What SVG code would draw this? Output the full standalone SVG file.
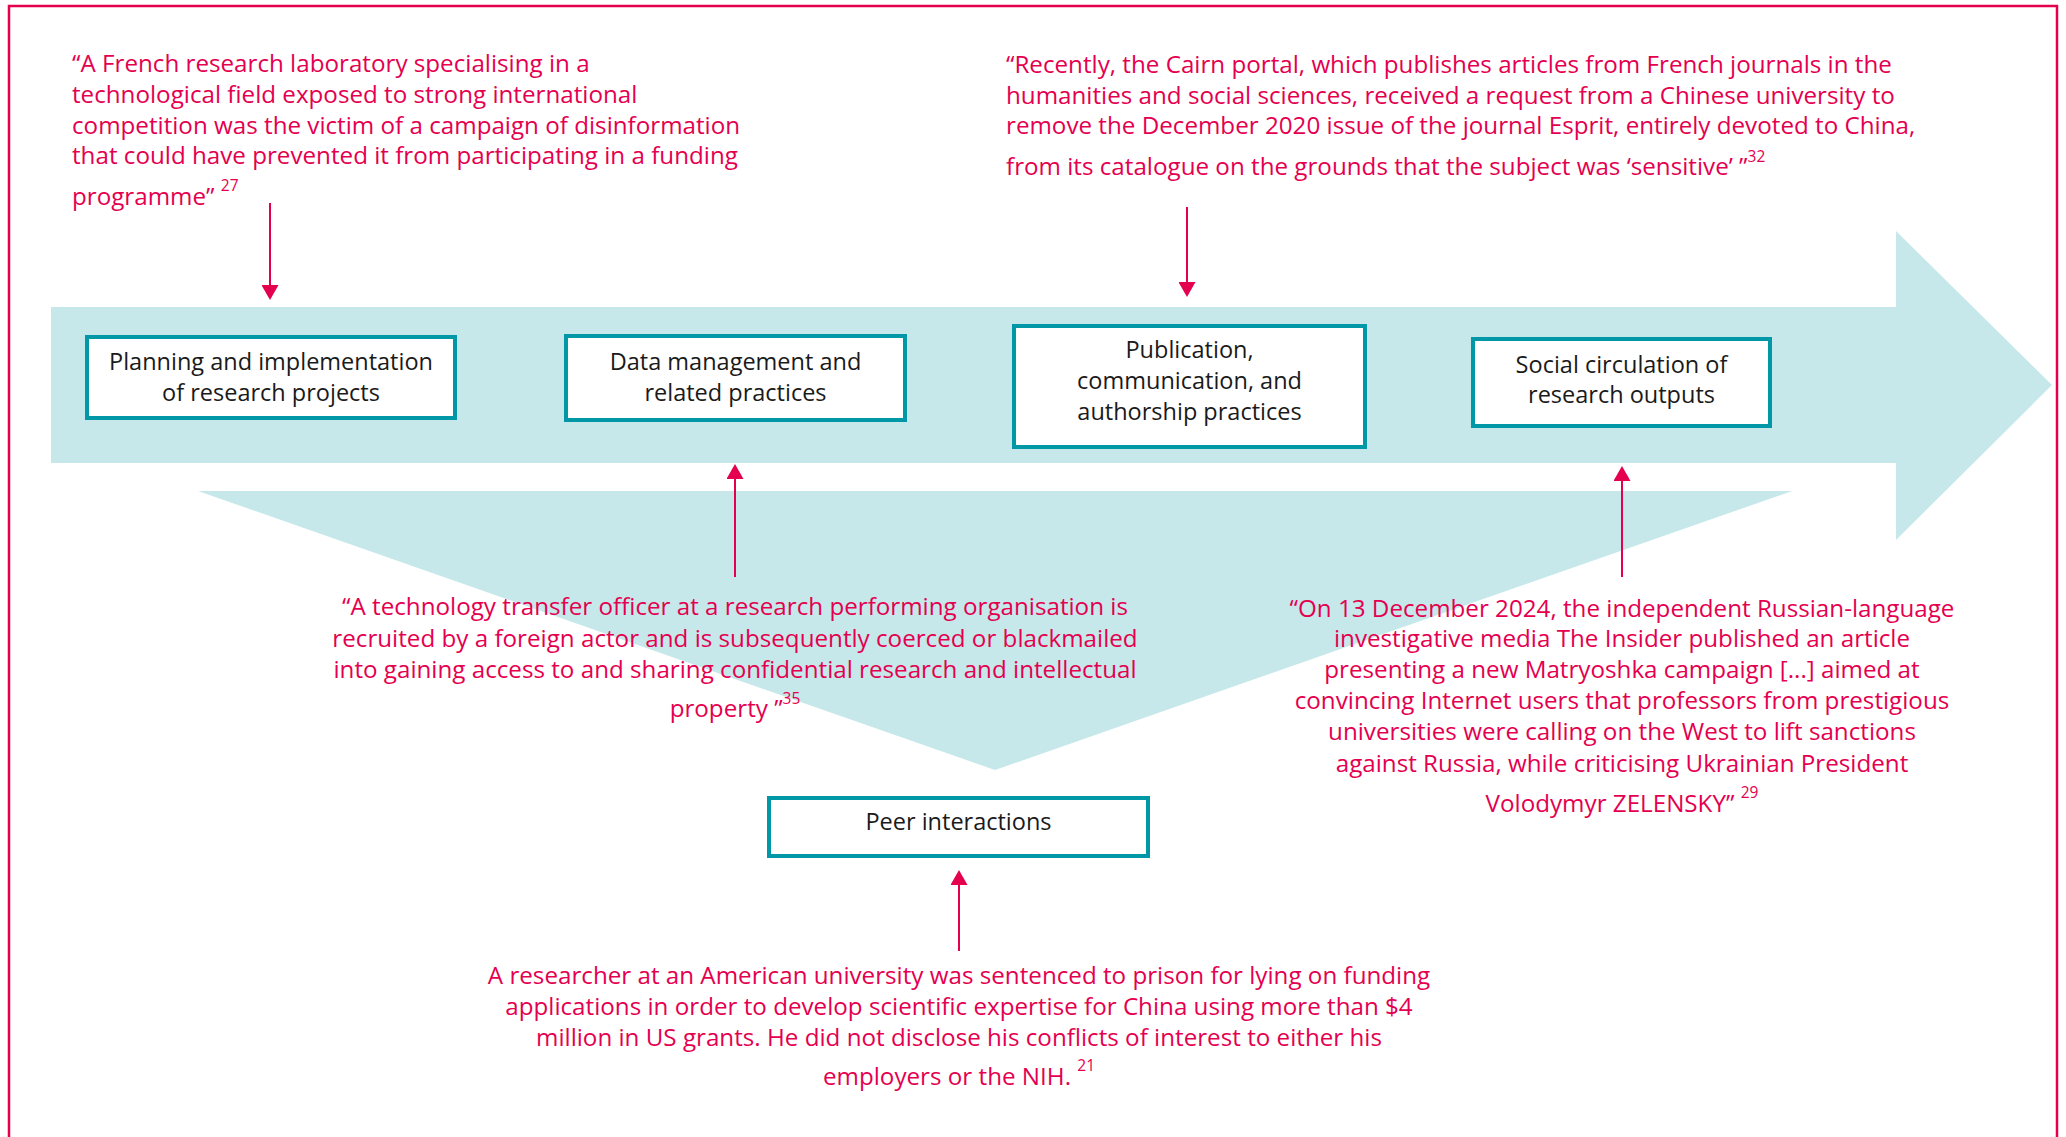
<svg xmlns="http://www.w3.org/2000/svg" width="2066" height="1137" viewBox="0 0 2066 1137">
  <style>
    .frame { fill: none; stroke: #E4004F; stroke-width: 2.5; }
    .band { fill: #C6E8EA; }
    .box { fill: #FFFFFF; stroke: #0098A6; stroke-width: 4; }
    .label { font-family: 'Open Sans', 'Liberation Sans', sans-serif; font-size: 23.5px; fill: #1A1A1A; text-anchor: middle; }
    .quote { font-family: 'Open Sans', 'Liberation Sans', sans-serif; font-size: 24.2px; fill: #E4004F; }
    .mid { text-anchor: middle; }
    .sup { font-size: 15.5px; }
    .conn { stroke: #E4004F; stroke-width: 2; fill: none; marker-end: url(#head); }
  </style>
  <defs>
    <marker id="head" markerUnits="userSpaceOnUse" markerWidth="15" markerHeight="17" viewBox="0 0 15 17" refX="0" refY="8.5" orient="auto">
      <path d="M0,0 L15,8.5 L0,17 Z" fill="#E4004F"/>
    </marker>
  </defs>

  <rect class="frame" x="9" y="6" width="2048" height="1200"/>

  <g id="background">
    <polygon class="band" points="51,307 1896,307 1896,231 2052,385 1896,540 1896,463 51,463"/>
    <polygon class="band" points="198,491 1792,491 995,770"/>
  </g>

  <g id="node-planning">
    <rect class="box" x="87" y="337" width="368" height="81"/>
    <text class="label" x="271" y="370">Planning and implementation</text>
    <text class="label" x="271" y="401">of research projects</text>
  </g>

  <g id="node-data">
    <rect class="box" x="566" y="336" width="339" height="84"/>
    <text class="label" x="735.5" y="370">Data management and</text>
    <text class="label" x="735.5" y="401">related practices</text>
  </g>

  <g id="node-publication">
    <rect class="box" x="1014" y="326" width="351" height="121"/>
    <text class="label" x="1189.5" y="358">Publication,</text>
    <text class="label" x="1189.5" y="389">communication, and</text>
    <text class="label" x="1189.5" y="420">authorship practices</text>
  </g>

  <g id="node-social">
    <rect class="box" x="1473" y="339" width="297" height="87"/>
    <text class="label" x="1621.5" y="373">Social circulation of</text>
    <text class="label" x="1621.5" y="403">research outputs</text>
  </g>

  <g id="node-peer">
    <rect class="box" x="769" y="798" width="379" height="58"/>
    <text class="label" x="958.5" y="830">Peer interactions</text>
  </g>

  <g id="note-french-lab">
    <text class="quote" x="72" y="72">“A French research laboratory specialising in a</text>
    <text class="quote" x="72" y="103">technological field exposed to strong international</text>
    <text class="quote" x="72" y="134">competition was the victim of a campaign of disinformation</text>
    <text class="quote" x="72" y="164">that could have prevented it from participating in a funding</text>
    <text class="quote" x="72" y="205">programme” <tspan class="sup" dy="-14">27</tspan></text>
  </g>

  <g id="note-cairn">
    <text class="quote" x="1006" y="73">“Recently, the Cairn portal, which publishes articles from French journals in the</text>
    <text class="quote" x="1006" y="104">humanities and social sciences, received a request from a Chinese university to</text>
    <text class="quote" x="1006" y="134">remove the December 2020 issue of the journal Esprit, entirely devoted to China,</text>
    <text class="quote" x="1006" y="175">from its catalogue on the grounds that the subject was ‘sensitive’ ”<tspan class="sup" dy="-13">32</tspan></text>
  </g>

  <g id="note-tto">
    <text class="quote mid" x="735" y="615">“A technology transfer officer at a research performing organisation is</text>
    <text class="quote mid" x="735" y="647">recruited by a foreign actor and is subsequently coerced or blackmailed</text>
    <text class="quote mid" x="735" y="678">into gaining access to and sharing confidential research and intellectual</text>
    <text class="quote mid" x="735" y="717">property ”<tspan class="sup" dy="-13">35</tspan></text>
  </g>

  <g id="note-insider">
    <text class="quote mid" x="1622" y="617">“On 13 December 2024, the independent Russian-language</text>
    <text class="quote mid" x="1622" y="647">investigative media The Insider published an article</text>
    <text class="quote mid" x="1622" y="678">presenting a new Matryoshka campaign [...] aimed at</text>
    <text class="quote mid" x="1622" y="709">convincing Internet users that professors from prestigious</text>
    <text class="quote mid" x="1622" y="740">universities were calling on the West to lift sanctions</text>
    <text class="quote mid" x="1622" y="772">against Russia, while criticising Ukrainian President</text>
    <text class="quote mid" x="1622" y="812">Volodymyr ZELENSKY” <tspan class="sup" dy="-14">29</tspan></text>
  </g>

  <g id="note-researcher">
    <text class="quote mid" x="959" y="984">A researcher at an American university was sentenced to prison for lying on funding</text>
    <text class="quote mid" x="959" y="1015">applications in order to develop scientific expertise for China using more than $4</text>
    <text class="quote mid" x="959" y="1046">million in US grants. He did not disclose his conflicts of interest to either his</text>
    <text class="quote mid" x="959" y="1085">employers or the NIH. <tspan class="sup" dy="-14">21</tspan></text>
  </g>

  <g id="connectors">
    <line class="conn" x1="270" y1="203" x2="270" y2="285"/>
    <line class="conn" x1="735" y1="577" x2="735" y2="479"/>
    <line class="conn" x1="1187" y1="207" x2="1187" y2="282"/>
    <line class="conn" x1="1622" y1="577" x2="1622" y2="481"/>
    <line class="conn" x1="959" y1="951" x2="959" y2="885"/>
  </g>
</svg>
